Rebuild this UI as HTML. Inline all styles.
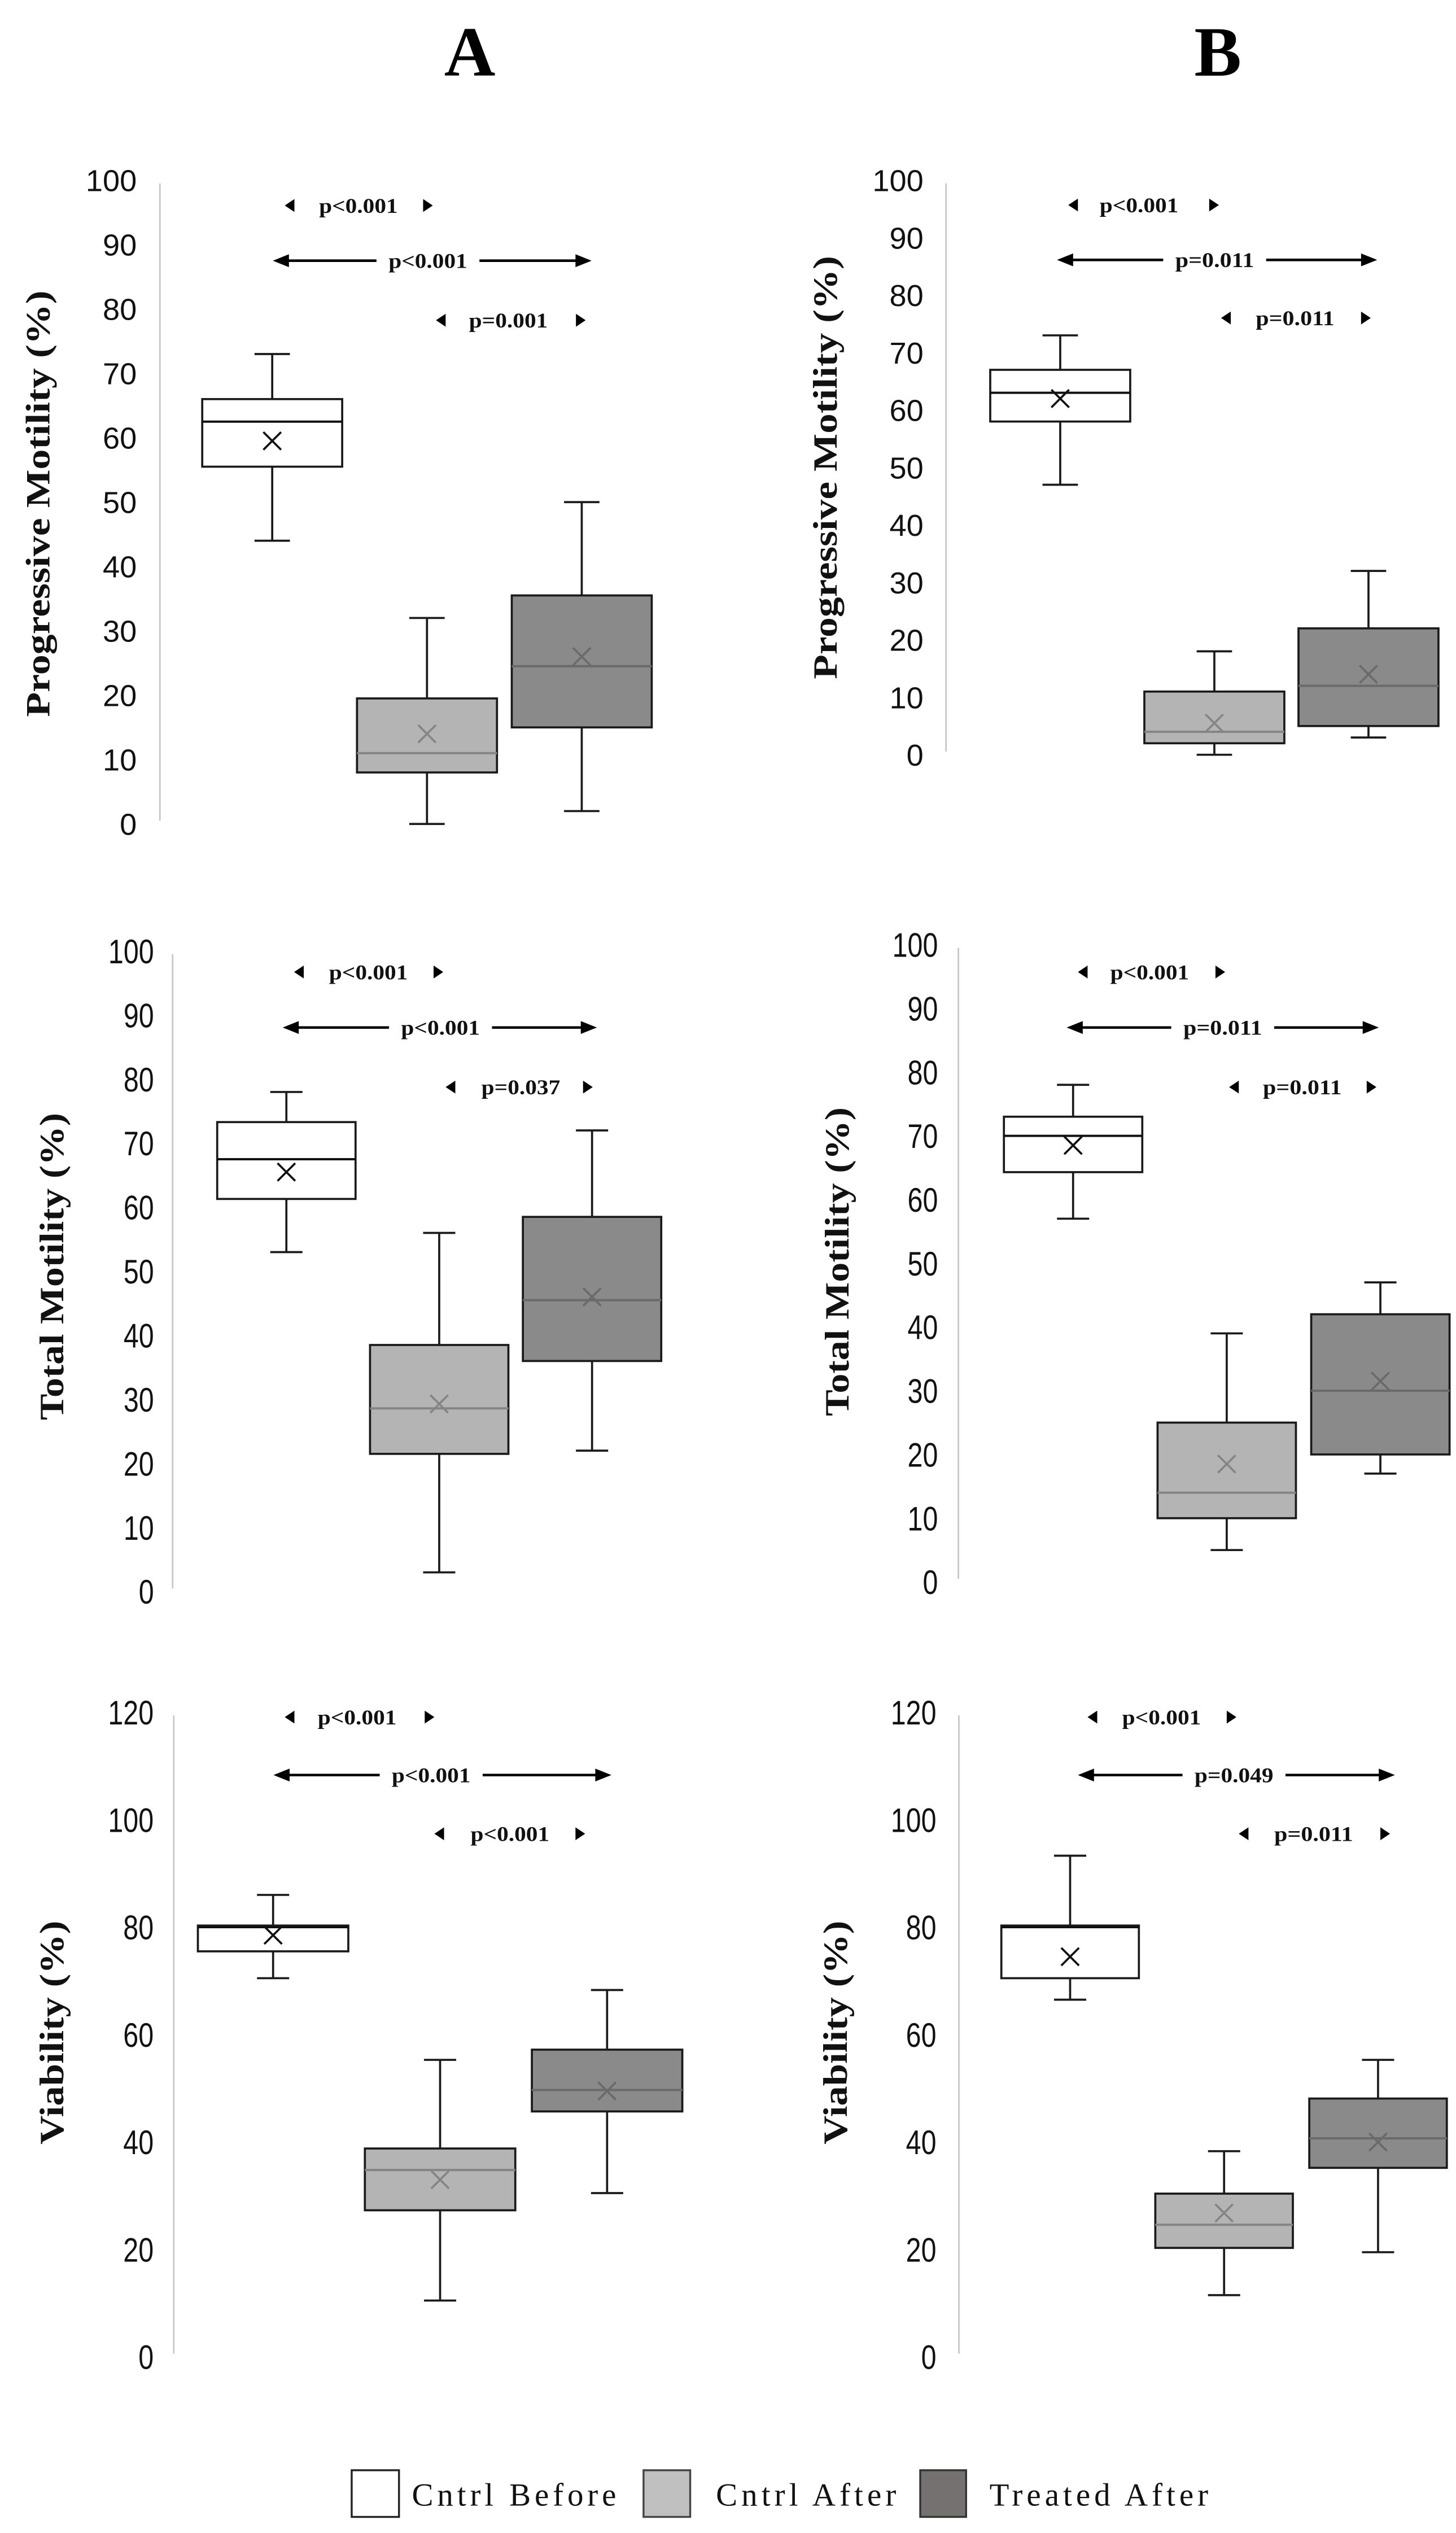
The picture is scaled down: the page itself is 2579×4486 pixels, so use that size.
<!DOCTYPE html>
<html><head><meta charset="utf-8"><title>Sperm motility and viability box plots</title>
<style>
html,body{margin:0;padding:0;background:#fff;}
svg{display:block;}
.tick{font-family:"Liberation Sans",sans-serif;fill:#111;}
.ytitle{font-family:"Liberation Serif",serif;font-weight:bold;fill:#111;}
.ptxt{font-family:"Liberation Serif",serif;fill:#111;font-size:13px;font-weight:bold;}
.hdr{font-family:"Liberation Serif",serif;font-weight:bold;font-size:44px;fill:#000;}
.leg{font-family:"Liberation Serif",serif;font-size:20px;fill:#111;}
</style></head>
<body>
<svg id="fig" xmlns="http://www.w3.org/2000/svg" width="2579" height="4486" viewBox="0 0 905 1574" preserveAspectRatio="none">
<rect x="0" y="0" width="905" height="1574" fill="#fff"/>
<text class="hdr" x="292" y="47" text-anchor="middle">A</text>
<text class="hdr" x="757" y="47" text-anchor="middle">B</text>
<g id="plots"></g>
<g>
 <rect x="218.6" y="1535" width="29.4" height="29" fill="#fff" stroke="#222" stroke-width="1.2"/>
 <text class="leg" x="256" y="1557" textLength="127">Cntrl Before</text>
 <rect x="400" y="1535" width="29" height="29" fill="#c0c0c0" stroke="#444" stroke-width="1.2"/>
 <text class="leg" x="445" y="1557" textLength="112">Cntrl After</text>
 <rect x="572" y="1535" width="28.5" height="29" fill="#767171" stroke="#333" stroke-width="1.2"/>
 <text class="leg" x="615" y="1557" textLength="136">Treated After</text>
</g>
</svg>
<script>
// ---- data ----
const groups = ['Cntrl Before', 'Cntrl After', 'Treated After'];
// Progressive motility, A
const pmA_min  = [44, 0, 2];
const pmA_q1   = [55.5, 8, 15];
const pmA_med  = [62.5, 11, 24.5];
const pmA_q3   = [66, 19.5, 35.5];
const pmA_max  = [73, 32, 50];
const pmA_mean = [59.5, 14, 26];
const pmA_p    = ['p<0.001', 'p<0.001', 'p=0.001'];
// Progressive motility, B
const pmB_min  = [47, 0, 3];
const pmB_q1   = [58, 2, 5];
const pmB_med  = [63, 4, 12];
const pmB_q3   = [67, 11, 22];
const pmB_max  = [73, 18, 32];
const pmB_mean = [62, 5.5, 14];
const pmB_p    = ['p<0.001', 'p=0.011', 'p=0.011'];
// Total motility, A
const tmA_min  = [53, 3, 22];
const tmA_q1   = [61.3, 21.5, 36];
const tmA_med  = [67.5, 28.6, 45.5];
const tmA_q3   = [73.3, 38.5, 58.5];
const tmA_max  = [78, 56, 72];
const tmA_mean = [65.5, 29.3, 46];
const tmA_p    = ['p<0.001', 'p<0.001', 'p=0.037'];
// Total motility, B
const tmB_min  = [57, 5, 17];
const tmB_q1   = [64.3, 10, 20];
const tmB_med  = [70, 14, 30];
const tmB_q3   = [73, 25, 42];
const tmB_max  = [78, 39, 47];
const tmB_mean = [68.5, 18.5, 31.5];
const tmB_p    = ['p<0.001', 'p=0.011', 'p=0.011'];
// Viability, A
const viA_min  = [70.5, 10.5, 30.5];
const viA_q1   = [75.5, 27.3, 45.7];
const viA_med  = [80, 34.8, 49.7];
const viA_q3   = [80.3, 38.8, 57.2];
const viA_max  = [86, 55.3, 68.3];
const viA_mean = [78.5, 33, 49.5];
const viA_p    = ['p<0.001', 'p<0.001', 'p<0.001'];
// Viability, B
const viB_min  = [66.5, 11.5, 19.5];
const viB_q1   = [70.5, 20.3, 35.2];
const viB_med  = [80, 24.6, 40.7];
const viB_q3   = [80.3, 30.4, 48.1];
const viB_max  = [93.3, 38.3, 55.3];
const viB_mean = [74.5, 26.8, 40];
const viB_p    = ['p<0.001', 'p=0.049', 'p=0.011'];
const ticks100 = [0, 10, 20, 30, 40, 50, 60, 70, 80, 90, 100];
const ticks120 = [0, 20, 40, 60, 80, 100, 120];

// ---- layout (not data) ----
const fills = ['#ffffff', '#b4b4b4', '#8a8a8a'];
const inner = ['#111', '#858585', '#6a6a6a'];
const panels = [
 {id:'pm-a', title:'Progressive Motility (%)', d:[pmA_min,pmA_q1,pmA_med,pmA_q3,pmA_max,pmA_mean], p:pmA_p, ticks:ticks100, vmax:100,
  ax:99.4, yTop:112, yZero:512, lblR:85, fs:19, narrow:false, tx:23.4, ty:313, tlen:265, tfs:21,
  x0:125.7, step:96.2, bw:87, cap:11,
  a:[[127.7,177,269,222.8],[162,169.6,367.7,266],[199,271,364,316]]},
 {id:'pm-b', title:'Progressive Motility (%)', d:[pmB_min,pmB_q1,pmB_med,pmB_q3,pmB_max,pmB_mean], p:pmB_p, ticks:ticks100, vmax:100,
  ax:588, yTop:112, yZero:469, lblR:574, fs:19, narrow:false, tx:512.7, ty:290.5, tlen:263, tfs:21,
  x0:615.5, step:95.8, bw:87, cap:11,
  a:[[127.4,664,757.6,708],[161.5,657,856,755],[197.6,759,852,805]]},
 {id:'tm-a', title:'Total Motility (%)', d:[tmA_min,tmA_q1,tmA_med,tmA_q3,tmA_max,tmA_mean], p:tmA_p, ticks:ticks100, vmax:100,
  ax:107.3, yTop:591, yZero:989, lblR:95.7, fs:21, narrow:true, tx:32, ty:787, tlen:191, tfs:21,
  x0:135, step:95, bw:86, cap:10,
  a:[[604,182.8,275.5,229],[638.5,175.7,371,273.8],[675.5,277,368.4,323.7]]},
 {id:'tm-b', title:'Total Motility (%)', d:[tmB_min,tmB_q1,tmB_med,tmB_q3,tmB_max,tmB_mean], p:tmB_p, ticks:ticks100, vmax:100,
  ax:595.7, yTop:587, yZero:983, lblR:583, fs:21, narrow:true, tx:520, ty:784, tlen:192, tfs:21,
  x0:624, step:95.5, bw:86, cap:10,
  a:[[604,670,761.5,714.6],[638.5,663,857,760],[675.5,764,855.5,809.5]]},
 {id:'vi-a', title:'Viability (%)', d:[viA_min,viA_q1,viA_med,viA_q3,viA_max,viA_mean], p:viA_p, ticks:ticks120, vmax:120,
  ax:108, yTop:1064, yZero:1464.6, lblR:95.5, fs:21, narrow:true, tx:32, ty:1263, tlen:139, tfs:21,
  x0:123, step:103.8, bw:93.5, cap:10,
  a:[[1067,177,270,222],[1103,170,380,268],[1139.5,270,363.7,317]]},
 {id:'vi-b', title:'Viability (%)', d:[viB_min,viB_q1,viB_med,viB_q3,viB_max,viB_mean], p:viB_p, ticks:ticks120, vmax:120,
  ax:596, yTop:1064, yZero:1464.6, lblR:582, fs:21, narrow:true, tx:519, ty:1263, tlen:139, tfs:21,
  x0:622.4, step:95.7, bw:85.5, cap:10,
  a:[[1067,676,768.5,722],[1103,670,867,767],[1139.5,770,864,816.5]]}
];

const NS = 'http://www.w3.org/2000/svg';
function mk(tag, attrs, parent) {
  const e = document.createElementNS(NS, tag);
  for (const k in attrs) e.setAttribute(k, attrs[k]);
  parent.appendChild(e);
  return e;
}
const root = document.getElementById('plots');

panels.forEach(P => {
  const g = mk('g', {}, root);
  
  
  const yS = v => P.yZero - (v / P.vmax) * (P.yZero - P.yTop);
  const xS = i => P.x0 + i * P.step;

  const axis = mk('line', {x1:P.ax, x2:P.ax, y1:yS(P.vmax)+2, y2:yS(0)-2, stroke:'#c8c8c8', 'stroke-width':1}, g);
  
  

  P.ticks.forEach(t => {
    const attrs = {x:P.lblR, y:yS(t) + P.fs*0.36, 'text-anchor':'end', class:'tick', 'font-size':P.fs};
    if (P.narrow) { attrs.textLength = String(t).length * P.fs * 0.45; attrs.lengthAdjust = 'spacingAndGlyphs'; }
    const tl = mk('text', attrs, g);
    tl.textContent = t;
    
    
  });

  const tt = mk('text', {class:'ytitle', x:0, y:0, 'text-anchor':'middle', 'font-size':P.tfs,
     textLength:P.tlen, lengthAdjust:'spacingAndGlyphs',
     transform:'translate(' + (P.tx + P.tfs*0.35) + ',' + P.ty + ') rotate(-90)'}, g);
  tt.textContent = P.title;
  
  

  const [mn, q1, md, q3, mx, me] = P.d;
  groups.forEach((grp, i) => {
    const bg = mk('g', {}, g);
    
    
    const L = xS(i), cx = L + P.bw / 2;
    const sc = '#1a1a1a', sw = 1.3;
    mk('line', {x1:cx, x2:cx, y1:yS(mx[i]), y2:yS(q3[i]), stroke:sc, 'stroke-width':sw}, bg);
    mk('line', {x1:cx, x2:cx, y1:yS(q1[i]), y2:yS(mn[i]), stroke:sc, 'stroke-width':sw}, bg);
    mk('line', {x1:cx-P.cap, x2:cx+P.cap, y1:yS(mx[i]), y2:yS(mx[i]), stroke:sc, 'stroke-width':sw}, bg);
    mk('line', {x1:cx-P.cap, x2:cx+P.cap, y1:yS(mn[i]), y2:yS(mn[i]), stroke:sc, 'stroke-width':sw}, bg);
    mk('rect', {x:L, y:yS(q3[i]), width:P.bw, height:yS(q1[i]) - yS(q3[i]), fill:fills[i], stroke:sc, 'stroke-width':sw}, bg);
    mk('line', {x1:L, x2:L+P.bw, y1:yS(md[i]), y2:yS(md[i]), stroke:inner[i], 'stroke-width':1.4}, bg);
    const my = yS(me[i]), s = 5.5;
    mk('path', {d:'M'+(cx-s)+','+(my-s)+'L'+(cx+s)+','+(my+s)+'M'+(cx-s)+','+(my+s)+'L'+(cx+s)+','+(my-s), stroke:inner[i], 'stroke-width':1.3, fill:'none'}, bg);
  });

  P.a.forEach((a, k) => {
    const [y, x1, x2, tc] = a;
    const ag = mk('g', {}, g);
    
    
    const pt = mk('text', {class:'ptxt', x:tc, y:y + 4.5, 'text-anchor':'middle', textLength:49, lengthAdjust:'spacingAndGlyphs'}, ag);
    pt.textContent = P.p[k];
    if (k === 1) {
      const h = 8, w = 10;
      mk('line', {x1:x1+w-1, x2:tc-32, y1:y, y2:y, stroke:'#000', 'stroke-width':1.6}, ag);
      mk('line', {x1:tc+32, x2:x2-w+1, y1:y, y2:y, stroke:'#000', 'stroke-width':1.6}, ag);
      mk('polygon', {points:x1+','+y+' '+(x1+w)+','+(y-h/2)+' '+(x1+w)+','+(y+h/2), fill:'#000'}, ag);
      mk('polygon', {points:x2+','+y+' '+(x2-w)+','+(y-h/2)+' '+(x2-w)+','+(y+h/2), fill:'#000'}, ag);
    } else {
      const h = 8, w = 6;
      mk('polygon', {points:x1+','+y+' '+(x1+w)+','+(y-h/2)+' '+(x1+w)+','+(y+h/2), fill:'#000'}, ag);
      mk('polygon', {points:x2+','+y+' '+(x2-w)+','+(y-h/2)+' '+(x2-w)+','+(y+h/2), fill:'#000'}, ag);
    }
  });
});
</script>
</body></html>
